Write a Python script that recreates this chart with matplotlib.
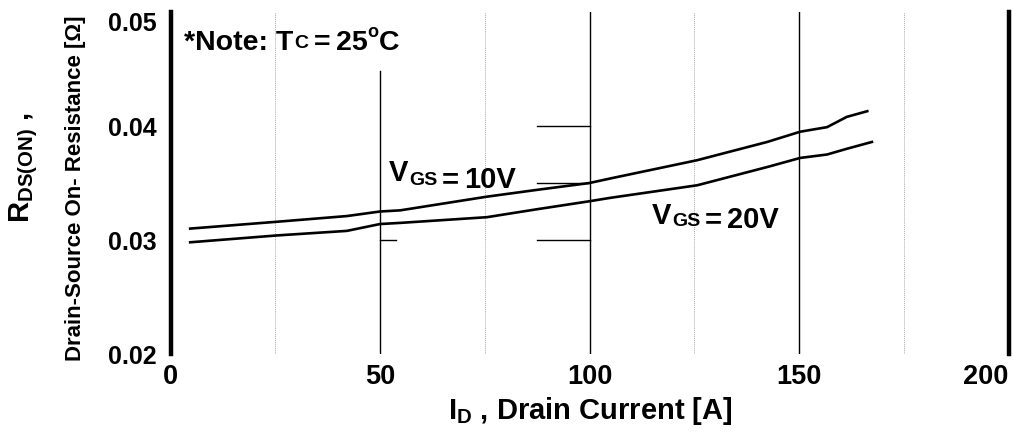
import matplotlib
matplotlib.use("Agg")
import matplotlib.pyplot as plt

plt.rcParams['font.family'] = ['Liberation Sans', 'DejaVu Sans']
plt.rcParams['mathtext.fontset'] = 'custom'
plt.rcParams['mathtext.rm'] = 'Liberation Sans:bold'
plt.rcParams['mathtext.bf'] = 'Liberation Sans:bold'
plt.rcParams['mathtext.it'] = 'Liberation Sans:bold'

# Drain current [A] and on-resistance [ohm] for the two gate voltages
id_10v = [4.7, 25.4, 42.1, 50, 54.8, 75.5, 87.5, 100, 105, 125.7, 142.4, 150.3, 156.7, 161.4, 166.3]
rds_10v = [0.0310, 0.0316, 0.0321, 0.0325, 0.0326, 0.0338, 0.0344, 0.0350, 0.0354,
           0.0370, 0.0386, 0.0395, 0.0399, 0.0408, 0.0413]
id_20v = [4.7, 25.4, 42.1, 50, 54.8, 75.5, 87.5, 100, 105, 125.7, 142.4, 150.3, 156.7, 161.4, 167.4]
rds_20v = [0.0298, 0.0304, 0.0308, 0.0314, 0.0315, 0.0320, 0.0327, 0.0334, 0.0337,
           0.0348, 0.0364, 0.0372, 0.0375, 0.0380, 0.0386]

x_ticks = [0, 50, 100, 150, 200]
x_tick_labels = ['0', '50', '100', '150', '200']
y_ticks = [0.02, 0.03, 0.04, 0.05]
y_tick_labels = ['0.02', '0.03', '0.04', '0.05']
minor_x = [25, 75, 125, 175]

W, H = 1013, 433
fig = plt.figure(figsize=(W / 100, H / 100), dpi=100)
ax = fig.add_axes([170.5 / W, 79 / H, 838 / W, 342 / H])
ax.set_xlim(0, 200)
ax.set_ylim(0.02, 0.05)
renderer = fig.canvas.get_renderer()


def put(px, py, s, size, **kw):
    """Place text with its left baseline at figure pixel (px, py) from the top-left."""
    return fig.text(px / W, 1 - py / H, s, fontsize=size, fontweight='bold',
                    ha=kw.pop('ha', 'left'), va=kw.pop('va', 'baseline'), **kw)


def chain(px, pieces):
    """Write pieces left to right; each piece is (text, size, baseline_y, gap_before)."""
    x = px
    for s, size, py, gap in pieces:
        t = put(x + gap, py, s, size)
        x = t.get_window_extent(renderer).x1


# frame: only heavy left/right rails
for s in ['top', 'bottom']:
    ax.spines[s].set_visible(False)
for s in ['left', 'right']:
    ax.spines[s].set_linewidth(3.2)
    ax.spines[s].set_color('black')

# grid lines
for xm in minor_x:
    ax.axvline(xm, color='#aaaaaa', lw=0.7, linestyle=(0, (1, 1)), zorder=1)
ax.axvline(50, ymin=0, ymax=(0.0448 - 0.02) / 0.03, color='black', lw=1.0, zorder=1)
ax.axvline(100, color='black', lw=1.0, zorder=1)
ax.axvline(150, color='black', lw=1.0, zorder=1)
for yv in [0.04, 0.035, 0.03]:
    ax.plot([87.5, 100], [yv, yv], color='black', lw=1.0, zorder=1)
ax.plot([50, 53.8], [0.03, 0.03], color='black', lw=1.0, zorder=1)

# curves
ax.plot(id_10v, rds_10v, color='black', lw=1.9, zorder=3)
ax.plot(id_20v, rds_20v, color='black', lw=1.9, zorder=3)

# ticks
ax.set_xticks(x_ticks)
ax.set_xticklabels(x_tick_labels, fontsize=19.5, fontweight='bold')
ax.get_xticklabels()[-1].set_ha('right')
ax.set_yticks(y_ticks)
ax.set_yticklabels(y_tick_labels, fontsize=18, fontweight='bold')
ax.get_yticklabels()[-1].set_va('top')
ax.tick_params(axis='both', length=0)
ax.tick_params(axis='x', pad=7)
ax.tick_params(axis='y', pad=10)

# axis titles
fig.text(590 / W, 1 - 411 / H, r'$\mathbf{I_D}$ , Drain Current [A]',
         fontsize=21, fontweight='bold', ha='center', va='center')
fig.text(24 / W, 1 - 168 / H, r'R$_{\mathbf{DS(ON)}}$ ,', rotation=90,
         fontsize=21, fontweight='bold', ha='center', va='center')
fig.text(76 / W, 1 - 188 / H, 'Drain-Source On- Resistance [Ω]', rotation=90,
         fontsize=16, fontweight='bold', ha='center', va='center')

# note
chain(184, [('*Note: T', 20.5, 50, 0), ('C', 14, 48, 1), ('=', 20.5, 50, 6),
            ('25', 20.5, 50, 5), ('o', 13, 37, 0), ('C', 20.5, 50, 0)])

# gate-voltage labels
chain(389, [('V', 21, 181, 0), ('GS', 14, 185, 1), ('=', 21, 188, 4), ('10V', 21, 188, 5)])
chain(652, [('V', 21, 224, 0), ('GS', 14, 226, 1), ('=', 21, 228, 4), ('20V', 21, 228, 5)])

fig.savefig('out.png', dpi=100)
